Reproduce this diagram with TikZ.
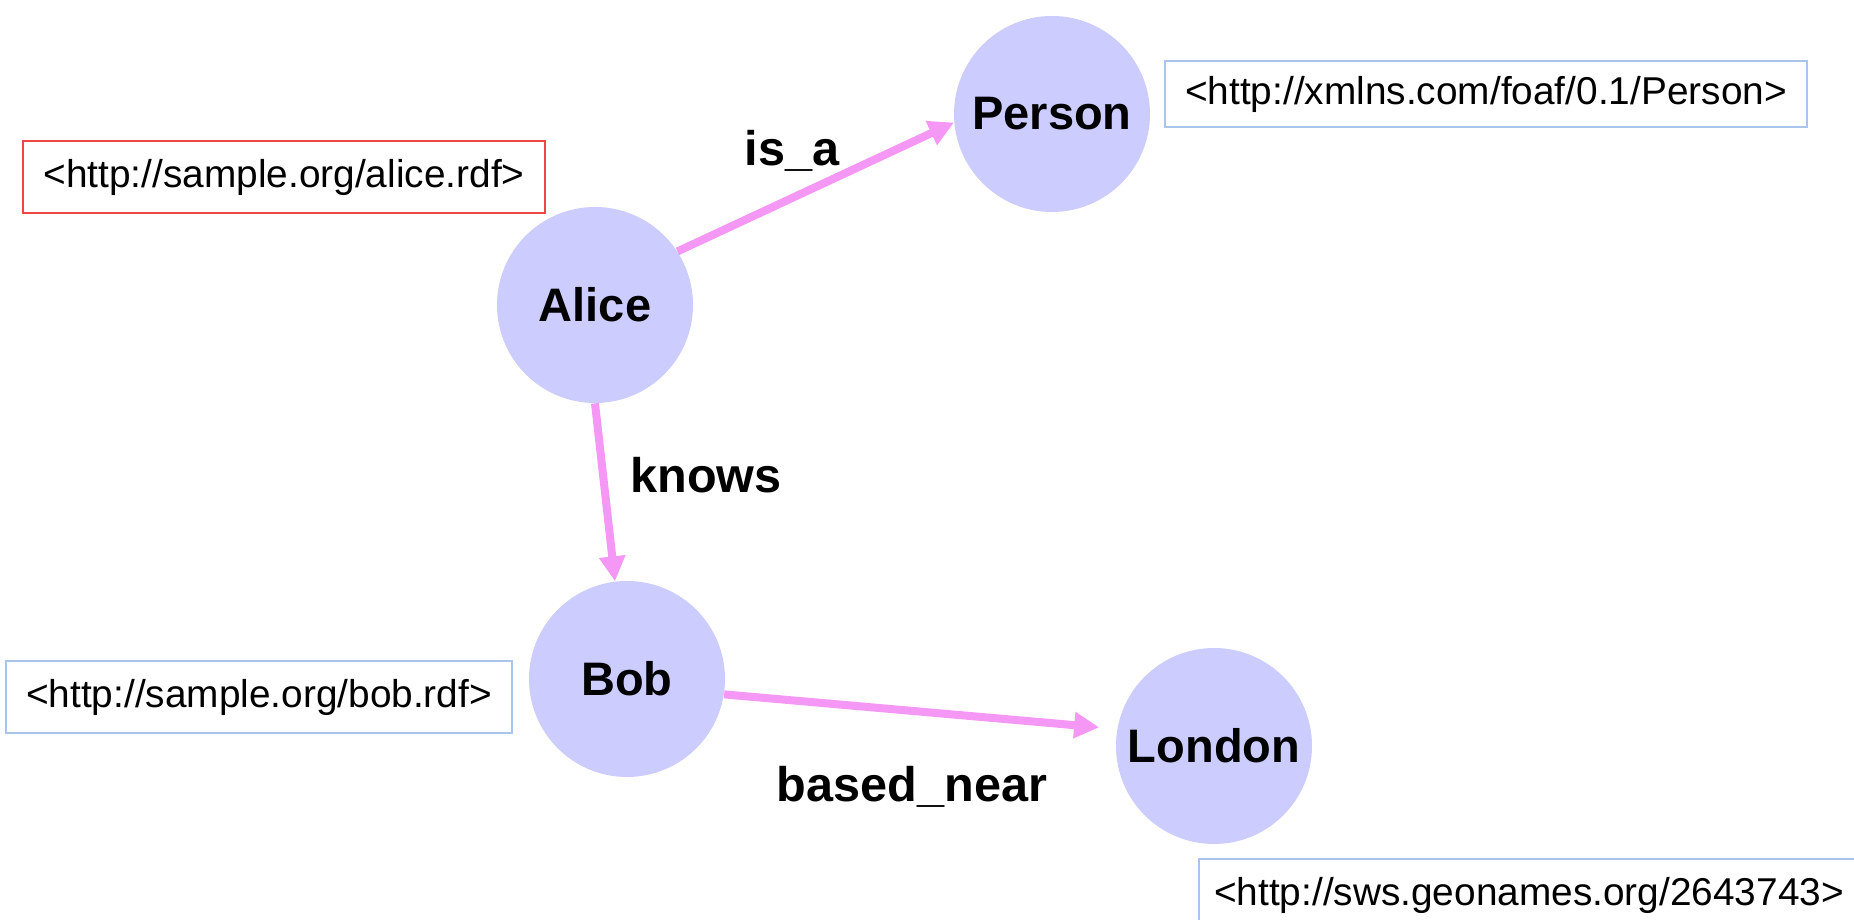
\documentclass[tikz,border=0pt]{standalone}
\usepackage{fontspec}
\setmainfont{Liberation Sans}
\usetikzlibrary{arrows.meta}
\definecolor{nodefill}{HTML}{CCCCFF}
\definecolor{edgecol}{HTML}{F598F5}
\definecolor{urired}{HTML}{F04545}
\definecolor{uriblue}{HTML}{A9C5EB}
\tikzset{
  res/.style={circle, fill=nodefill, draw=none, minimum size=98pt, inner sep=0pt,
    font=\fontsize{23.5}{28}\selectfont\bfseries},
  rel/.style={draw=edgecol, line width=4pt, -{Triangle[length=12.5pt,width=12.5pt]}},
  rellabel/.style={anchor=base, inner sep=0pt, font=\fontsize{24.3}{29}\selectfont\bfseries},
  uribox/.style={draw=uriblue, line width=1pt, fill=white, inner sep=0pt,
    font=\fontsize{19.4}{23}\selectfont},
  urired/.style={uribox, draw=urired}
}
\begin{document}
\begin{tikzpicture}[x=0.5pt,y=0.5pt]
\clip (0,0) rectangle (1854,920);
\useasboundingbox (0,0) rectangle (1854,920);
\fill[white] (0,0) rectangle (1854,920);
% resources
\node[res] (alice) at (595,615) {Alice};
\node[res] (person) at (1052,806) {Person};
\node[res] (bob) at (627,241) {Bob};
\node[res] (london) at (1214,174) {London};
% uri boxes
\node[urired, minimum width=261pt, minimum height=36pt] (aliceuri) at (284,743) {<http://sample.org/alice.rdf>};
\node[uribox, minimum width=321pt, minimum height=33pt] (personuri) at (1486,826) {<http://xmlns.com/foaf/0.1/Person>};
\node[uribox, minimum width=253pt, minimum height=36pt] (boburi) at (259,223) {<http://sample.org/bob.rdf>};
\node[uribox, minimum width=330pt, minimum height=36pt] (londonuri) at (1529,25) {<http://sws.geonames.org/2643743>};
% relations
\draw[rel] (alice.33) -- (person.185);
\draw[rel] (alice.270) -- (bob.97);
\draw[rel, shorten >=9pt] (bob.-9) -- (london.170);
% labels
\node[rellabel] (isa) at (792,754) {is\_a};
\node[rellabel] (knows) at (706,427) {knows};
\node[rellabel] (near) at (912,118) {based\_near};
\end{tikzpicture}
\end{document}
